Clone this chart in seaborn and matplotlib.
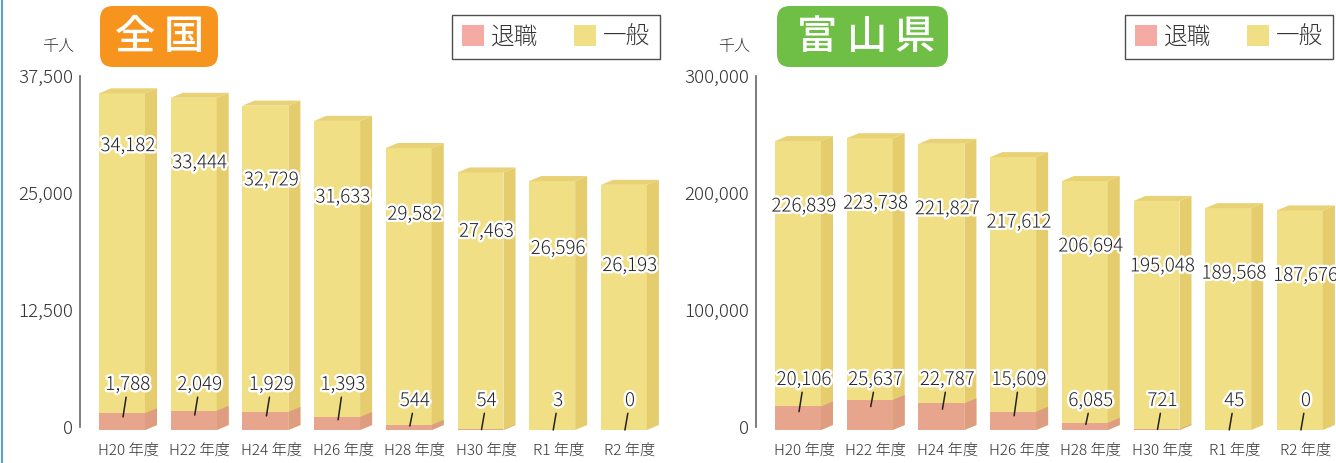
import matplotlib.pyplot as plt
import matplotlib.patheffects as pe
import matplotlib.transforms as mtransforms
import pandas as pd
import seaborn as sns
from matplotlib.lines import Line2D
from matplotlib.patches import FancyBboxPatch, Patch, Polygon

# Data (unit: 千人)
years = ["H20 年度", "H22 年度", "H24 年度", "H26 年度", "H28 年度", "H30 年度", "R1 年度", "R2 年度"]
national_general = [34182, 33444, 32729, 31633, 29582, 27463, 26596, 26193]
national_retired = [1788, 2049, 1929, 1393, 544, 54, 3, 0]
toyama_general = [226839, 223738, 221827, 217612, 206694, 195048, 189568, 187676]
toyama_retired = [20106, 25637, 22787, 15609, 6085, 721, 45, 0]
national_ticks = [0, 12500, 25000, 37500]
toyama_ticks = [0, 100000, 200000, 300000]

# colours
FRONT_YEL = "#f0df85"
SIDE_YEL = "#e5cc6c"
TOP_YEL = "#e8d275"
FRONT_PINK = "#e8a58e"
SIDE_PINK = "#de9d80"
LEG_PINK = "#f6aaa4"
TEXT = "#333333"

W, H = 1336, 463
DX, DY = 12, 5  # depth of the 3D bars in pixels

sns.set_style("white")
plt.rcParams["font.family"] = ["Noto Sans CJK JP", "DejaVu Sans"]
plt.rcParams["font.weight"] = "light"

fig = plt.figure(figsize=(W / 100, H / 100), dpi=100)
ax_l = fig.add_axes([80 / W, (H - 427) / H, 573.6 / W, 351 / H])
ax_r = fig.add_axes([756 / W, (H - 427) / H, 573.6 / W, 351 / H])


def draw_panel(ax, general, retired, ticks, label_off, label_step, upper_frac, legend_right):
    df = pd.DataFrame({"year": years, "general": general, "retired": retired})
    df["total"] = df["general"] + df["retired"]

    sns.barplot(data=df, x="year", y="total", color=FRONT_YEL, saturation=1,
                width=0.64, errorbar=None, linewidth=0, ax=ax)
    n_yel = len(ax.patches)
    sns.barplot(data=df, x="year", y="retired", color=FRONT_PINK, saturation=1,
                width=0.64, errorbar=None, linewidth=0, ax=ax)

    ax.set_xlim(-0.67, 7.33)
    ax.set_ylim(0, ticks[-1])

    # front faces sit slightly in front of the axis plane
    shift = mtransforms.ScaledTranslation(-6 / 100, -3 / 100, fig.dpi_scale_trans)
    front = ax.transData + shift
    bars = list(ax.patches)
    sides, tops = [], []
    for k, p in enumerate(bars):
        p.set_transform(front)
        p.set_clip_on(False)
        h = p.get_height()
        if h <= 0:
            continue
        x0, w = p.get_x(), p.get_width()
        xl, yb = front.transform((x0, 0))
        xr, yt = front.transform((x0 + w, h))
        yellow = k < n_yel
        sides.append(Polygon([(xr, yb), (xr + DX, yb + DY), (xr + DX, yt + DY), (xr, yt)],
                             closed=True, fc=SIDE_YEL if yellow else SIDE_PINK, ec="none"))
        if yellow:
            tops.append(Polygon([(xl, yt), (xr, yt), (xr + DX, yt + DY), (xl + DX, yt + DY)],
                                closed=True, fc=TOP_YEL, ec="none"))
    for poly in sides + tops:
        poly.set_transform(mtransforms.IdentityTransform())
        poly.set_clip_on(False)
        ax.add_patch(poly)

    # value labels
    trans = mtransforms.blended_transform_factory(ax.transData, ax.transAxes)
    stroke = [pe.withStroke(linewidth=3.5, foreground="white")]
    prev = None
    for i, (g, t) in enumerate(zip(df["general"], df["total"] / ticks[-1])):
        f = t - label_off
        if label_step and prev is not None:
            f = min(f, prev - label_step)
        prev = f
        ax.text(i, f, f"{g:,}", transform=trans, ha="center", va="center",
                fontsize=13.5, color="#222222", path_effects=stroke, zorder=5)

    for i, r in enumerate(df["retired"]):
        rf = r / ticks[-1]
        ly = upper_frac if rf > 0.03 else 0.074
        ey = -3 / 351 + 0.78 * rf
        ax.annotate(f"{r:,}", xy=(i - 0.07, ey), xytext=(i, ly), xycoords=trans,
                    textcoords=trans, ha="center", va="center", fontsize=13.5,
                    color="#222222", path_effects=stroke, zorder=5,
                    arrowprops=dict(arrowstyle="-", color="#222222", lw=1.1,
                                    shrinkA=0, shrinkB=0))

    # axes styling
    ax.set_xlabel("")
    ax.set_ylabel("")
    ax.set_yticks(ticks)
    ax.set_yticklabels([f"{t:,}" for t in ticks])
    sns.despine(ax=ax, bottom=True)
    ax.spines["left"].set_color("#666666")
    ax.spines["left"].set_linewidth(1.2)
    ax.tick_params(axis="y", direction="in", length=7, width=1.2, color="#666666",
                   labelsize=13.5, labelcolor=TEXT, pad=5)
    ax.tick_params(axis="x", length=0, pad=12, labelsize=11, labelcolor=TEXT)
    ax.grid(False)
    ax.patch.set_alpha(0)

    handles = [Patch(fc=LEG_PINK, ec="none", label="退職"),
               Patch(fc=FRONT_YEL, ec="none", label="一般")]
    leg = ax.legend(handles=handles, loc="upper right",
                    bbox_to_anchor=(legend_right / W, 1 - 15 / H),
                    bbox_transform=fig.transFigure, ncol=2, frameon=True,
                    fancybox=False, edgecolor="#222222", fontsize=17,
                    handlelength=0.95, handleheight=0.95, handletextpad=0.3,
                    columnspacing=1.5, borderpad=0.4, borderaxespad=0)
    leg.get_frame().set_linewidth(1.0)
    for txt in leg.get_texts():
        txt.set_color(TEXT)


draw_panel(ax_l, national_general, national_retired, national_ticks,
           label_off=0.159, label_step=0.0488, upper_frac=0.12, legend_right=660)
draw_panel(ax_r, toyama_general, toyama_retired, toyama_ticks,
           label_off=0.195, label_step=None, upper_frac=0.134, legend_right=1333)

# unit labels
fig.text(58 / W, 1 - 47 / H, "千人", ha="center", va="center", fontsize=11.5, color=TEXT)
fig.text(734 / W, 1 - 47 / H, "千人", ha="center", va="center", fontsize=11.5, color=TEXT)

# title badges, each character placed with wide letter spacing
badges = [(100, 218, "#f7941d", "全国", [135, 184]),
          (777, 948, "#6fbe45", "富山県", [817, 867, 914])]
for x0, x1, col, label, centers in badges:
    badge = FancyBboxPatch((x0, H - 67), x1 - x0, 61,
                           boxstyle="round,pad=0,rounding_size=13",
                           transform=mtransforms.IdentityTransform(),
                           fc=col, ec="none")
    fig.add_artist(badge)
    for ch, cx in zip(label, centers):
        fig.text(cx / W, 1 - 37 / H, ch, ha="center", va="center",
                 fontsize=29, fontweight="medium", color="white")

# thin blue frame line on the left edge
fig.add_artist(Line2D([2 / W, 2 / W], [0, 1], color="#5aa0d8", lw=1.5,
                      transform=fig.transFigure))

fig.savefig("out.png", dpi=100)
plt.close(fig)
